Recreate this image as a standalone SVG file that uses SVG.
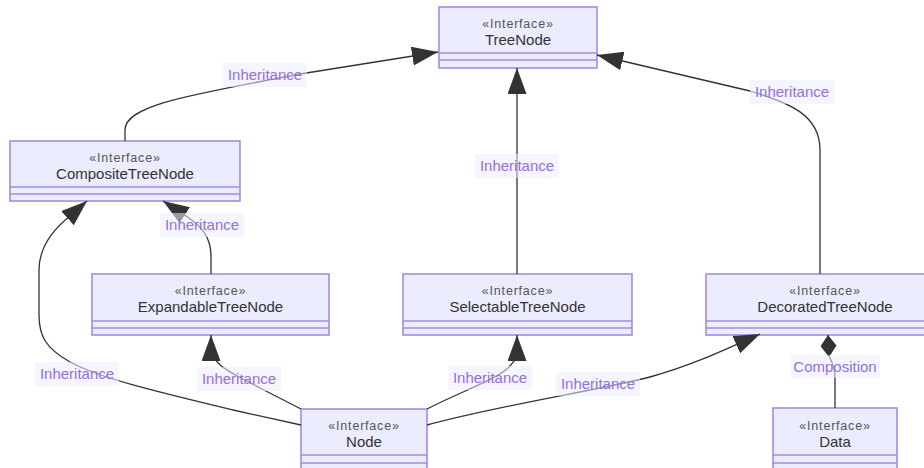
<svg xmlns="http://www.w3.org/2000/svg" width="924" height="468" viewBox="0 0 924 468">
  <style>
    .box { fill: #ECECFF; stroke: #a58be4; stroke-width: 1.6; }
    .div { stroke: #a58be4; stroke-width: 1.6; fill: none; }
    .stereo { font-family: "Liberation Sans", Arial, sans-serif; font-size: 12.5px; letter-spacing: 0.8px; fill: #555; text-anchor: middle; }
    .name { font-family: "Liberation Sans", Arial, sans-serif; font-size: 15px; fill: #333; text-anchor: middle; }
    .edge { fill: none; stroke: #333; stroke-width: 1.3; }
    .inh { marker-end: url(#extension); }
    .lblbg { fill: #ECECFF; opacity: 0.55; }
    .lbl { font-family: "Liberation Sans", Arial, sans-serif; font-size: 15px; fill: #9370DB; text-anchor: middle; }
  </style>
  <defs>
    <marker id="extension" markerUnits="userSpaceOnUse" markerWidth="28" markerHeight="21" refX="26" refY="9.5" orient="auto">
      <path d="M0,0 L26,9.5 L0,19 Z" fill="#333"/>
    </marker>
    <marker id="composition" markerUnits="userSpaceOnUse" markerWidth="24" markerHeight="18" refX="22" refY="8" orient="auto">
      <path d="M0,8 L11,0 L22,8 L11,16 Z" fill="#333"/>
    </marker>
  </defs>

  <rect width="924" height="468" fill="#ffffff"/>

  <!-- class nodes -->
  <g id="TreeNode">
    <rect class="box" x="439" y="7" width="158" height="61"/>
    <path class="div" d="M439,53 H597 M439,60 H597"/>
    <text class="stereo" x="518" y="27.5">«Interface»</text>
    <text class="name" x="518" y="44.5">TreeNode</text>
  </g>
  <g id="CompositeTreeNode">
    <rect class="box" x="10" y="141" width="230" height="60"/>
    <path class="div" d="M10,187 H240 M10,194 H240"/>
    <text class="stereo" x="125" y="161.5">«Interface»</text>
    <text class="name" x="125" y="178.5">CompositeTreeNode</text>
  </g>
  <g id="ExpandableTreeNode">
    <rect class="box" x="92" y="274" width="237" height="61"/>
    <path class="div" d="M92,321 H329 M92,328 H329"/>
    <text class="stereo" x="210.5" y="294.5">«Interface»</text>
    <text class="name" x="210.5" y="311.5">ExpandableTreeNode</text>
  </g>
  <g id="SelectableTreeNode">
    <rect class="box" x="403" y="274" width="229" height="61"/>
    <path class="div" d="M403,321 H632 M403,328 H632"/>
    <text class="stereo" x="517.5" y="294.5">«Interface»</text>
    <text class="name" x="517.5" y="311.5">SelectableTreeNode</text>
  </g>
  <g id="DecoratedTreeNode">
    <rect class="box" x="706" y="274" width="238" height="61"/>
    <path class="div" d="M706,321 H944 M706,328 H944"/>
    <text class="stereo" x="825" y="294.5">«Interface»</text>
    <text class="name" x="825" y="311.5">DecoratedTreeNode</text>
  </g>
  <g id="Node">
    <rect class="box" x="301" y="409" width="126" height="62"/>
    <path class="div" d="M301,455 H427 M301,463 H427"/>
    <text class="stereo" x="364" y="429.5">«Interface»</text>
    <text class="name" x="364" y="446.5">Node</text>
  </g>
  <g id="Data">
    <rect class="box" x="773" y="408" width="124" height="62"/>
    <path class="div" d="M773,455 H897 M773,463 H897"/>
    <text class="stereo" x="835" y="429.5">«Interface»</text>
    <text class="name" x="835" y="446.5">Data</text>
  </g>

  <!-- relations -->
  <g id="connectors">
    <path class="edge inh" d="M125,141 V130 C125,105 190,95 300,74 L438,52"/>
    <path class="edge inh" d="M517,274 V68"/>
    <path class="edge inh" d="M820,274 V150 C820,115 790,103 750,91 L597,55"/>
    <path class="edge inh" d="M211,274 V256 C211,236 200,225 186,216 L163,201"/>
    <path class="edge inh" d="M301,425 L233,410 C150,390 100,378 70,362 C45,348 39,335 39,315 V270 C39,245 55,228 70,216 L87,201"/>
    <path class="edge inh" d="M301,409 L260,388 C230,372 211,365 211,346 L211,335"/>
    <path class="edge inh" d="M427,409 C460,392 495,380 508,368 C514,362 517,358 517,348 L517,335"/>
    <path class="edge inh" d="M427,425 C500,405 600,390 650,377 C690,366 720,352 760,334"/>
    <path class="edge" marker-end="url(#composition)" d="M835,408 V378 C835,366 831,360 829,356 L828,335"/>
  </g>

  <!-- relation labels -->
  <g id="labels">
    <rect class="lblbg" x="223" y="63" width="84" height="24"/>
    <text class="lbl" x="265" y="80">Inheritance</text>
    <rect class="lblbg" x="475" y="154" width="84" height="24"/>
    <text class="lbl" x="517" y="171">Inheritance</text>
    <rect class="lblbg" x="750" y="80" width="84" height="24"/>
    <text class="lbl" x="792" y="97">Inheritance</text>
    <rect class="lblbg" x="160" y="213" width="84" height="24"/>
    <text class="lbl" x="202" y="230">Inheritance</text>
    <rect class="lblbg" x="35" y="362" width="84" height="24"/>
    <text class="lbl" x="77" y="379">Inheritance</text>
    <rect class="lblbg" x="197" y="367" width="84" height="24"/>
    <text class="lbl" x="239" y="384">Inheritance</text>
    <rect class="lblbg" x="448" y="366" width="84" height="24"/>
    <text class="lbl" x="490" y="383">Inheritance</text>
    <rect class="lblbg" x="556" y="372" width="84" height="24"/>
    <text class="lbl" x="598" y="389">Inheritance</text>
    <rect class="lblbg" x="791" y="355" width="89" height="23"/>
    <text class="lbl" x="835" y="371.5">Composition</text>
  </g>
</svg>
